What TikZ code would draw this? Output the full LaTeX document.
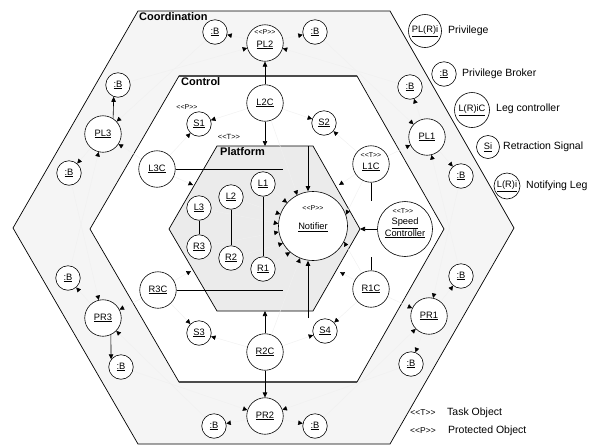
\documentclass[tikz,border=0pt]{standalone}
\usepackage{fontspec}
\setmainfont{Liberation Sans}
\usetikzlibrary{arrows.meta}
\pgfdeclarelayer{bg}
\pgfdeclarelayer{mid}
\pgfsetlayers{bg,mid,main}
\begin{document}
\begin{tikzpicture}[x=1pt,y=-1pt,
  obj/.style={circle,draw,fill=white,line width=0.6pt,inner sep=0pt,font=\fontsize{9.3}{10}\selectfont},
  bigobj/.style={obj,minimum size=36.5pt},
  smallobj/.style={obj,minimum size=24.5pt},
  txt/.style={inner sep=0pt,font=\fontsize{9.3}{10}\selectfont,align=center},
  stereo/.style={inner sep=0pt,font=\fontsize{7}{7}\selectfont},
  stereobig/.style={inner sep=0pt,font=\fontsize{8.5}{9}\selectfont},
  title/.style={inner sep=0pt,anchor=west,font=\fontsize{11}{12}\selectfont\bfseries},
  legend/.style={inner sep=0pt,anchor=west,font=\fontsize{10.5}{12}\selectfont},
  faint/.style={draw=black!6,line width=0.4pt,-{Triangle[length=4.5pt,width=4.5pt,color=black]}},
  arr/.style={draw,line width=0.6pt,-{Triangle[length=5pt,width=4.5pt]}},
  plain/.style={draw,line width=0.6pt},
]
\useasboundingbox (0,0) rectangle (598,445);

\begin{pgfonlayer}{bg}
\fill[white] (0,0) rectangle (598,445);
\draw[fill=black!4,line width=0.7pt] (138,11) -- (390,11) -- (514,228) -- (390,444) -- (138,444) -- (13,228) -- cycle;
\draw[fill=white,line width=0.7pt] (179,76) -- (357,76) -- (444,229) -- (357,382) -- (179,382) -- (90,229) -- cycle;
\draw[black!70,line width=1.2pt] (179,76) -- (357,76) (179,382) -- (357,382);
\draw[fill=black!8,line width=0.7pt] (217,146) -- (313,146) -- (360,229) -- (313,311) -- (217,311) -- (169,229) -- cycle;
\end{pgfonlayer}

% titles
\node[title] (tcoord) at (139,17) {Coordination};
\node[title] (tctrl) at (181,82) {Control};
\node[title] (tplat) at (220,152) {Platform};

% coordination ring
\node[smallobj] (B1) at (215,32) {\underline{:B}};
\node[bigobj] (PL2) at (265,43) {};
\node[txt] (PL2t) at (265,45) {\underline{PL2}};
\node[stereo] (PL2s) at (265,32) {<{}<P>{}>};
\node[smallobj] (B2) at (315,32) {\underline{:B}};
\node[smallobj] (B3) at (118,85) {\underline{:B}};
\node[bigobj] (PL3) at (103,134) {\underline{PL3}};
\node[smallobj] (B4) at (69,173) {\underline{:B}};
\node[smallobj] (B5) at (410,87) {\underline{:B}};
\node[bigobj] (PL1) at (427,137) {\underline{PL1}};
\node[smallobj] (B6) at (461,176) {\underline{:B}};
\node[smallobj] (B7) at (68,278) {\underline{:B}};
\node[bigobj] (PR3) at (103,318) {\underline{PR3}};
\node[smallobj] (B8) at (121,367) {\underline{:B}};
\node[smallobj] (B9) at (461,276) {\underline{:B}};
\node[bigobj] (PR1) at (429,316) {\underline{PR1}};
\node[smallobj] (B10) at (411,364) {\underline{:B}};
\node[smallobj] (B11) at (214,426) {\underline{:B}};
\node[bigobj] (PR2) at (265,416) {\underline{PR2}};
\node[smallobj] (B12) at (315,426) {\underline{:B}};

% control ring
\node[bigobj] (L2C) at (265,103) {\underline{L2C}};
\node[smallobj] (S1) at (199,124) {\underline{S1}};
\node[stereo] (S1s) at (187,107) {<{}<P>{}>};
\node[smallobj] (S2) at (324,123) {\underline{S2}};
\node[bigobj] (L3C) at (157,169) {\underline{L3C}};
\node[bigobj] (L1C) at (371,164) {};
\node[stereo] (L1Cs) at (371,155) {<{}<T>{}>};
\node[txt] (L1Ct) at (371,167) {\underline{L1C}};
\node[obj,minimum size=55pt] (SC) at (405,229) {};
\node[stereo] (SCs) at (403,211) {<{}<T>{}>};
\node[txt] (SCt) at (405,228) {\underline{Speed}\\\underline{Controller}};
\node[bigobj] (R3C) at (158,290) {\underline{R3C}};
\node[bigobj] (R1C) at (371,289) {\underline{R1C}};
\node[smallobj] (S3) at (199,333) {\underline{S3}};
\node[smallobj] (S4) at (325,331) {\underline{S4}};
\node[bigobj] (R2C) at (265,352) {\underline{R2C}};
\node[stereo,font=\fontsize{7.5}{8}\selectfont] (Ts) at (229,137) {<{}<T>{}>};

% platform
\node[smallobj] (L1) at (263,184) {\underline{L1}};
\node[smallobj] (L2) at (231,197) {\underline{L2}};
\node[smallobj] (L3) at (199,208) {\underline{L3}};
\node[smallobj] (R3) at (199,247) {\underline{R3}};
\node[smallobj] (R2) at (231,258) {\underline{R2}};
\node[smallobj] (R1) at (263,269) {\underline{R1}};
\node[obj,minimum size=69pt] (N) at (313,226) {};
\node[stereo] (Ns) at (313,208) {<{}<P>{}>};
\node[txt] (Nt) at (313,227) {\underline{Notifier}};

% coordinates
\coordinate (pA) at (193,185);
\coordinate (pB) at (339,185);
\coordinate (pC) at (191,271);
\coordinate (pD) at (340,272);
\coordinate (ptop) at (265,146);
\coordinate (pbot) at (265,311);
\coordinate (pL3) at (283,169);
\coordinate (pR3) at (283,290);
\coordinate (nt) at (308,146);
\coordinate (nb) at (308,318);
\coordinate (pR) at (360,229);
\coordinate (pL1C) at (371,201);
\coordinate (pR1C) at (371,257);

% legend
\node[obj,minimum size=33pt] (LG1) at (425,31) {\underline{PL(R)i}};
\node[legend] (LG1t) at (448,31) {Privilege};
\node[smallobj] (LG2) at (444,74) {\underline{:B}};
\node[legend] (LG2t) at (462,74) {Privilege Broker};
\node[obj,minimum size=35pt] (LG3) at (472,110) {\underline{L(R)iC}};
\node[legend] (LG3t) at (496,109) {Leg controller};
\node[obj,minimum size=23pt] (LG4) at (488,147) {\underline{Si}};
\node[legend] (LG4t) at (503,147) {Retraction Signal};
\node[obj,minimum size=26pt] (LG5) at (507,186) {\underline{L(R)i}};
\node[legend] (LG5t) at (526,186) {Notifying Leg};
\node[stereobig] (LG6) at (423,413) {<{}<T>{}>};
\node[legend] (LG6t) at (447,413) {Task Object};
\node[stereobig] (LG7) at (423,431) {<{}<P>{}>};
\node[legend] (LG7t) at (448,431) {Protected Object};

\begin{pgfonlayer}{mid}
% privilege ring
\draw[faint] (B3) -- (PL2);
\draw[faint] (PL2) -- (B1);
\draw[faint] (B1) -- (PL3);
\draw[faint] (B5) -- (PL2);
\draw[faint] (PL2) -- (B2);
\draw[faint] (B2) -- (PL1);
\draw[faint] (PL1) -- (B5);
\draw[faint] (B9) -- (PL1);
\draw[faint] (PL1) -- (B6);
\draw[faint] (B6) -- (PR1);
\draw[faint] (PR1) -- (B9);
\draw[faint] (PR1) -- (B10);
\draw[faint] (B10) -- (PR2);
\draw[faint] (PR2) -- (B12);
\draw[faint] (B12) -- (PR1);
\draw[faint] (B8) -- (PR2);
\draw[faint] (PR2) -- (B11);
\draw[faint] (B11) -- (PR3);
\draw[faint] (PR3) -- (B7);
\draw[faint] (B7) -- (PL3);
\draw[faint] (PL3) -- (B4);
\draw[faint] (B4) -- (PR3);
% controllers to privileges
\draw[faint] (L3C) -- (PL3);
\draw[faint] (R3C) -- (PR3);
\draw[faint] (L1C) -- (PL1);
\draw[faint] (R1C) -- (PR1);
% signals
\draw[faint] (L2C) -- (S1);
\draw[faint] (L3C) -- (S1);
\draw[faint] (L2C) -- (S2);
\draw[faint] (L1C) -- (S2);
\draw[faint] (R3C) -- (S3);
\draw[faint] (R2C) -- (S3);
\draw[faint] (R1C) -- (S4);
\draw[faint] (R2C) -- (S4);
% platform
\draw[faint] (L3C) -- (pA);
\draw[faint] (L1C) -- (pB);
\draw[faint] (R3C) -- (pC);
\draw[faint] (R1C) -- (pD);
% notifier
\draw[faint] (L2C) -- (N.117);
\draw[faint] (L1) -- (N.138);
\draw[faint] (L2) -- (N.160);
\draw[faint] (L3) -- (N.176);
\draw[faint] (R3) -- (N.190);
\draw[faint] (R2) -- (N.210);
\draw[faint] (R1) -- (N.229);
\draw[faint] (R2C) -- (N.248);
\draw[faint] (L1C) -- (N.19);
\draw[faint] (R1C) -- (N.-27);
% solid connectors
\draw[arr] (L2C) -- (PL2);
\draw[arr] (R2C) -- (PR2);
\draw[arr] (PL3.57) -- (B3.250);
\draw[arr] (PR3.-65) -- (B8.142);
\draw[arr] (L2C) -- (ptop);
\draw[arr] (R2C) -- (pbot);
\draw[plain] (L3C) -- (pL3);
\draw[plain] (R3C) -- (pR3);
\draw[plain] (L1) -- (R1);
\draw[plain] (L2) -- (R2);
\draw[plain] (L3) -- (R3);
\draw[arr] (nt) -- (nt |- N.north);
\draw[arr] (nb) -- (nb |- N.south);
\draw[arr] (SC) -- (pR);
\draw[plain] (L1C) -- (pL1C);
\draw[plain] (R1C) -- (pR1C);
\end{pgfonlayer}
\end{tikzpicture}
\end{document}
